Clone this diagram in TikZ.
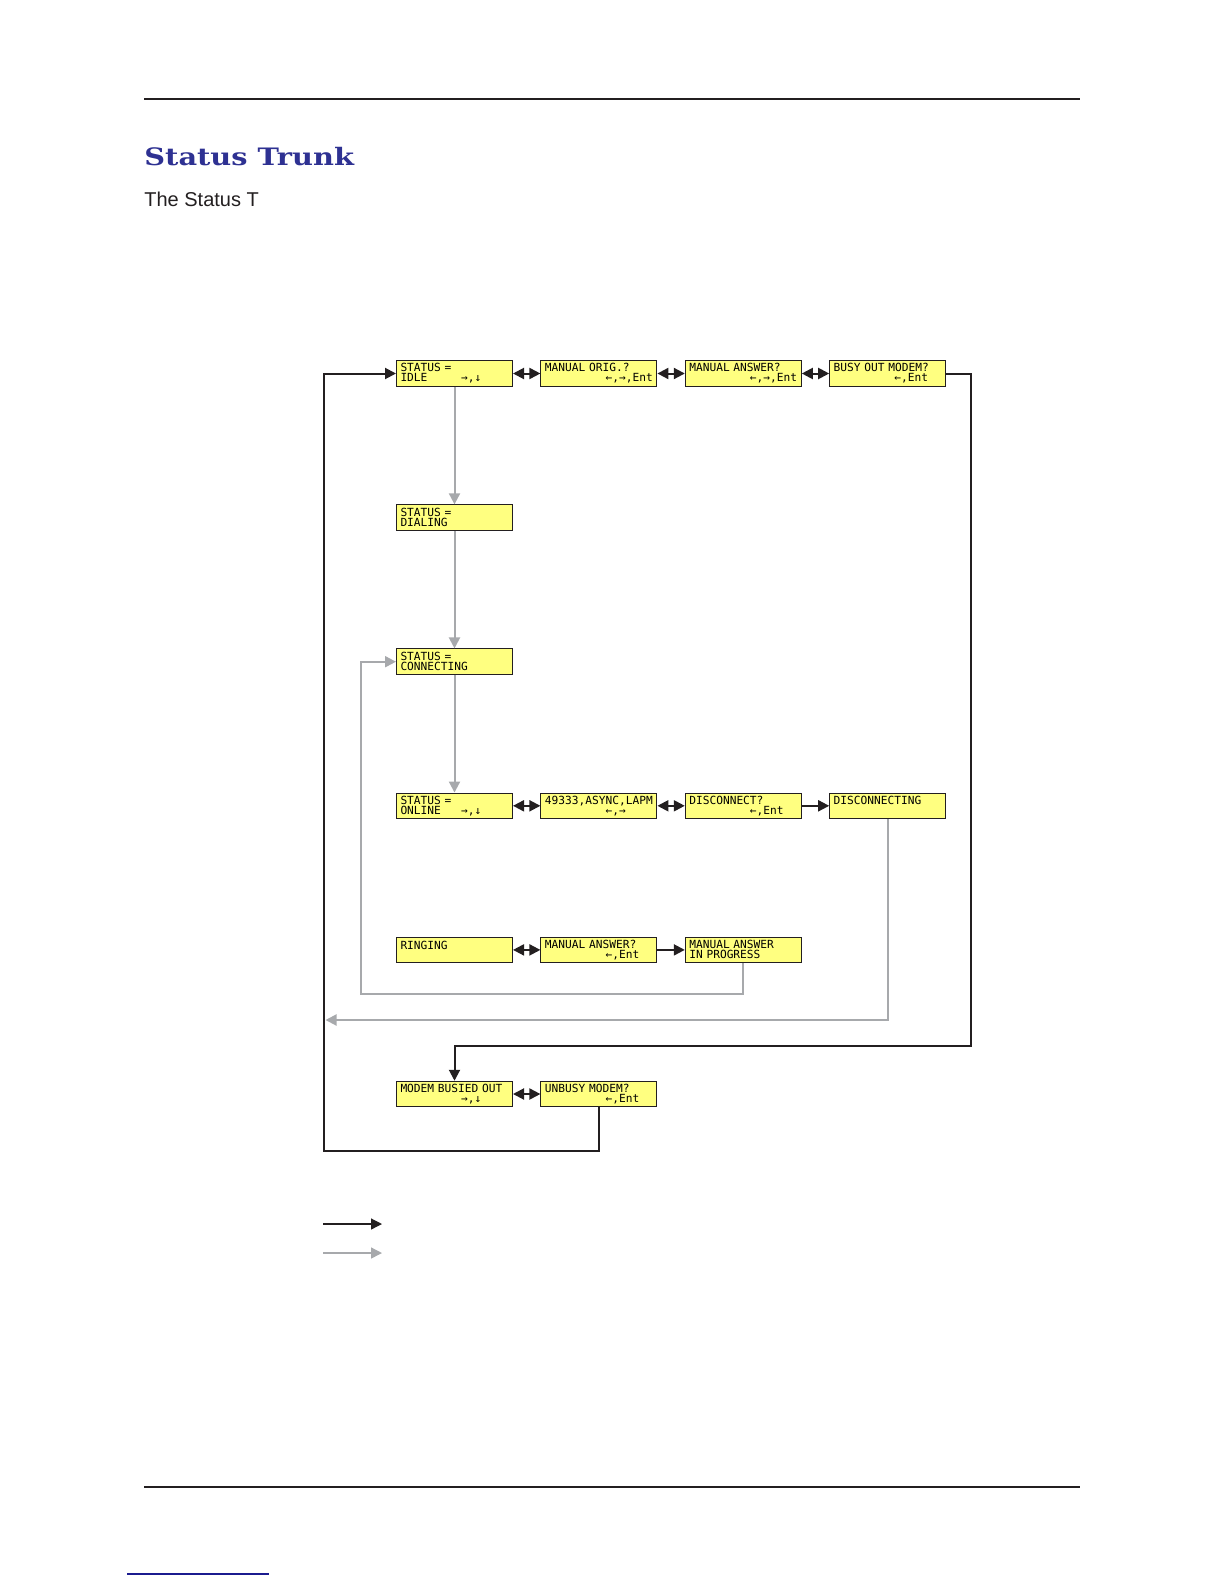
\documentclass[tikz,border=0pt]{standalone}
\usepackage{fontspec}
\setmainfont{Liberation Sans}
\newfontfamily\lcdfamily{DejaVu Sans Mono}
\newfontfamily\headfamily[FakeStretch=1.2]{DejaVu Serif}
\usetikzlibrary{arrows.meta,positioning}
\definecolor{ink}{HTML}{231F20}
\definecolor{faint}{HTML}{A7A9AC}
\definecolor{lcdyellow}{HTML}{FFFF80}
\definecolor{headblue}{HTML}{2E3192}
\definecolor{linkblue}{HTML}{1B1B8F}
\newlength{\lcdw}
\newcommand{\keyrow}[2]{\settowidth{\lcdw}{0}\makebox[9\lcdw][l]{#1}#2}
\tikzset{
  lcd/.style={draw=ink, line width=0.5pt, fill=lcdyellow, rectangle, inner xsep=2pt, inner ysep=0pt, text width=54pt, minimum height=12.75pt, align=left, font=\lcdfamily\fontsize{5.6}{5}\selectfont},
  keypath/.style={line width=1pt, draw=ink, >={Triangle[length=5.5pt,width=5.5pt]}},
  autopath/.style={line width=1pt, draw=faint, >={Triangle[length=5.5pt,width=5.5pt]}}
}

\begin{document}
\begin{tikzpicture}[x=0.5pt, y=-0.5pt, node distance=13.7pt]
  \useasboundingbox (0,0) rectangle (1224,1584);
  % page furniture
  \draw[ink, line width=0.6pt] (144,99) -- (1080,99);
  \draw[ink, line width=0.6pt] (144,1487) -- (1080,1487);
  \draw[linkblue, line width=0.6pt] (127,1574) -- (269,1574);
  \node[anchor=base west, inner sep=0pt, text=headblue, font=\headfamily\bfseries\fontsize{12}{14}\selectfont] (title) at (144,165) {Status Trunk};
  \node[anchor=base west, inner sep=0pt, text=ink, font=\fontsize{10}{12}\selectfont] (intro) at (144,206) {The Status T};

  % displays
  \node[lcd] (idle) at (454.5,373.5) {STATUS =\\\keyrow{IDLE}{→,↓}};
  \node[lcd, right=of idle] (orig) {MANUAL ORIG.?\\\keyrow{}{←,→,Ent}};
  \node[lcd, right=of orig] (answer) {MANUAL ANSWER?\\\keyrow{}{←,→,Ent}};
  \node[lcd, right=of answer] (busy) {BUSY OUT MODEM?\\\keyrow{}{←,Ent}};
  \node[lcd, below=58.8pt of idle] (dialing) {STATUS =\\DIALING};
  \node[lcd, below=58.8pt of dialing] (connecting) {STATUS =\\CONNECTING};
  \node[lcd, below=58.8pt of connecting] (online) {STATUS =\\\keyrow{ONLINE}{→,↓}};
  \node[lcd, right=of online] (rates) {49333,ASYNC,LAPM\\\keyrow{}{←,→}};
  \node[lcd, right=of rates] (disc) {DISCONNECT?\\\keyrow{}{←,Ent}};
  \node[lcd, right=of disc] (discing) {DISCONNECTING\\\mbox{}};
  \node[lcd, below=58.8pt of online] (ringing) {RINGING\\\mbox{}};
  \node[lcd, right=of ringing] (manans) {MANUAL ANSWER?\\\keyrow{}{←,Ent}};
  \node[lcd, right=of manans] (inprog) {MANUAL ANSWER\\IN PROGRESS};
  \node[lcd, below=58.8pt of ringing] (busied) {MODEM BUSIED OUT\\\keyrow{}{→,↓}};
  \node[lcd, right=of busied] (unbusy) {UNBUSY MODEM?\\\keyrow{}{←,Ent}};

  % key presses
  \draw[keypath, <->] (idle) -- (orig);
  \draw[keypath, <->] (orig) -- (answer);
  \draw[keypath, <->] (answer) -- (busy);
  \draw[keypath, <->] (online) -- (rates);
  \draw[keypath, <->] (rates) -- (disc);
  \draw[keypath, ->] (disc) -- (discing);
  \draw[keypath, <->] (ringing) -- (manans);
  \draw[keypath, ->] (manans) -- (inprog);
  \draw[keypath, <->] (busied) -- (unbusy);
  \coordinate (leftrun) at (324,1151);
  \coordinate (rightrun) at (971,1046);
  \draw[keypath, ->] (unbusy.south) |- (leftrun) |- (idle.west);
  \draw[keypath, ->] (busy.east) -| (rightrun) -| (busied.north);

  % automatic changes
  \draw[autopath, ->] (idle) -- (dialing);
  \draw[autopath, ->] (dialing) -- (connecting);
  \draw[autopath, ->] (connecting) -- (online);
  \coordinate (retry) at (360.5,994);
  \coordinate (dropped) at (325.5,1020);
  \draw[autopath, ->] (inprog.south) |- (retry) |- (connecting.west);
  \draw[autopath, ->] (discing.south) |- (dropped);

  % legend
  \coordinate (keyfrom) at (323,1224);
  \coordinate (keyto) at (382,1224);
  \coordinate (autofrom) at (323,1253);
  \coordinate (autoto) at (382,1253);
  \draw[keypath, ->, line width=0.6pt] (keyfrom) -- (keyto);
  \draw[autopath, ->, line width=0.7pt] (autofrom) -- (autoto);
\end{tikzpicture}
\end{document}
